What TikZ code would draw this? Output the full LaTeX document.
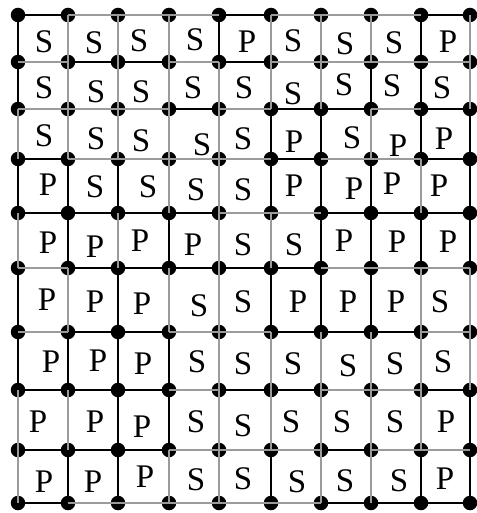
\documentclass[tikz,border=0pt]{standalone}
\usepackage{fontspec}
\setmainfont{Liberation Serif}
\definecolor{edgegray}{RGB}{155,155,155}
\begin{document}
\begin{tikzpicture}[x=1pt,y=-1pt,
  blk/.style={line width=2.3pt, black},
  gry/.style={line width=2.2pt, color=edgegray},
  dot/.style={circle, fill=black, inner sep=0pt, minimum size=14.5pt},
  lbl/.style={font=\fontsize{33}{33}\selectfont, inner sep=0pt}]
\useasboundingbox (0,0) rectangle (476,513);
\foreach \y [count=\r from 0] in {15,62,109,159,213,268,332,390,450,503}{
  \foreach \x [count=\c from 0] in {18,68,118,169,219,271,321,371,421,470}{
    \coordinate (v-\r-\c) at (\x,\y);
  }
}
\def\Hmat{{1,0,0,0,1,0,0,0,1},{0,1,1,0,1,0,0,0,0},{0,0,0,1,0,1,1,0,1},{1,0,0,0,0,1,0,0,1},{1,1,1,1,0,0,1,1,1},{0,1,1,1,1,1,0,0,0},{0,1,1,0,0,1,1,1,0},{1,1,1,0,1,1,0,0,1},{1,1,1,0,0,0,1,0,0},{1,0,0,0,0,0,1,1,1}}
\def\Vmat{{1,0,0,0,1,0,0,0,1,0},{1,0,0,0,0,0,0,1,1,0},{0,0,0,0,0,1,1,0,1,1},{1,1,1,0,0,1,1,1,0,1},{0,1,0,1,0,0,1,1,1,1},{1,0,1,0,0,1,1,1,0,0},{1,1,1,1,0,0,0,0,0,0},{0,0,1,1,0,0,0,0,0,1},{0,1,1,0,0,1,0,0,1,1}}
% black edges
\foreach \row [count=\r from 0] in \Hmat {
  \foreach \b [count=\c from 0] in \row {
    \pgfmathtruncatemacro\cn{\c+1}
    \ifnum\b=1 \draw[blk] (v-\r-\c) -- (v-\r-\cn);\fi
  }
}
\foreach \row [count=\r from 0] in \Vmat {
  \foreach \b [count=\c from 0] in \row {
    \pgfmathtruncatemacro\rn{\r+1}
    \ifnum\b=1 \draw[blk] (v-\r-\c) -- (v-\rn-\c);\fi
  }
}
% dots
\foreach \r in {0,...,9}{
  \foreach \c in {0,...,9}{
    \node[dot] (d-\r-\c) at (v-\r-\c) {};
  }
}
% gray edges
\foreach \row [count=\r from 0] in \Hmat {
  \foreach \b [count=\c from 0] in \row {
    \pgfmathtruncatemacro\cn{\c+1}
    \ifnum\b=0 \draw[gry] (v-\r-\c) -- (v-\r-\cn);\fi
  }
}
\foreach \row [count=\r from 0] in \Vmat {
  \foreach \b [count=\c from 0] in \row {
    \pgfmathtruncatemacro\rn{\r+1}
    \ifnum\b=0 \draw[gry] (v-\r-\c) -- (v-\rn-\c);\fi
  }
}
% letters
\foreach \t/\x/\y [count=\i] in {
 S/44/42, S/94/43, S/139/41, S/195/40, P/247/42, S/293/41, S/345/44, S/394/43, P/448/42,
 S/44/88, S/96/92, S/141/92, S/193/88, S/244/88, S/293/94, S/344/85, S/392/86, S/442/88,
 S/44/136, S/96/139, S/141/141, S/202/145, S/243/139, P/294/142, S/352/138, P/398/146, P/444/139,
 P/48/185, S/95/187, S/148/187, S/196/190, S/243/190, P/294/186, P/354/189, P/392/184, P/439/186,
 P/48/243, P/95/247, P/140/241, P/193/245, S/243/245, S/294/245, P/344/241, P/397/242, P/448/242,
 P/47/300, P/95/302, P/142/304, S/199/306, S/243/302, P/298/302, P/348/302, P/396/302, S/440/302,
 P/51/362, P/98/361, P/143/364, S/197/362, S/243/364, S/293/364, S/348/366, S/395/364, S/443/362,
 P/38/422, P/95/422, P/142/427, S/196/422, S/243/426, S/291/422, S/342/422, S/395/422, P/446/422,
 P/44/482, P/93/482, P/145/477, S/196/480, S/243/479, S/297/482, S/345/481, S/399/481, P/445/479}
 { \node[lbl] (l\i) at (\x,\y) {\t}; }
\end{tikzpicture}
\end{document}
